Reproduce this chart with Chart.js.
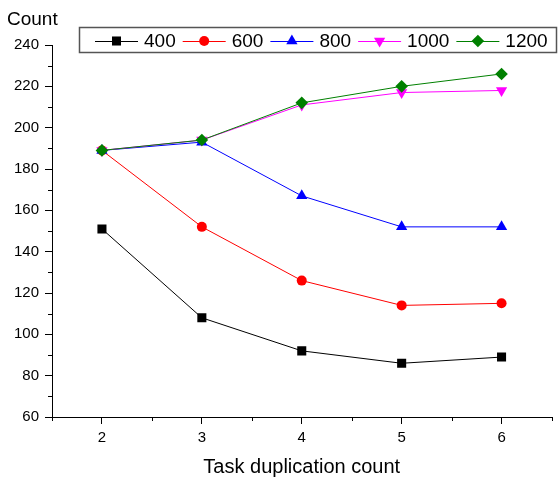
<!DOCTYPE html>
<html><head><meta charset="utf-8">
<script src="https://cdn.jsdelivr.net/npm/chart.js@4/dist/chart.umd.min.js"></script>
<style>html,body{margin:0;padding:0;background:#fff}</style>
</head><body>
<canvas id="c" width="558" height="478" style="display:block;width:558px;height:478px"></canvas>
<script>
const taskDup = [2, 3, 4, 5, 6];
const series400 = [151, 108, 92, 86, 89];
const series600 = [189, 152, 126, 114, 115];
const series800 = [189, 193, 167, 152, 152];
const series1000 = [189, 194, 211, 217, 218];
const series1200 = [189, 194, 212, 220, 226];
const seriesNames = ['400', '600', '800', '1000', '1200'];
const xTicks = [2, 3, 4, 5, 6];
const yTicks = [60, 80, 100, 120, 140, 160, 180, 200, 220, 240];
const xMinor = [1.5, 2.5, 3.5, 4.5, 5.5, 6.5];
const yMinor = [70, 90, 110, 130, 150, 170, 190, 210, 230];
const yTitle = 'Count';
const xTitle = 'Task duplication count';

const FONT = '"Liberation Sans", Arial, sans-serif';
const styles = [
  {color: '#000000', pointStyle: 'rect', rotation: 0, radius: 6.4},
  {color: '#ff0000', pointStyle: 'circle', rotation: 0, radius: 5},
  {color: '#0000ff', pointStyle: 'triangle', rotation: 0, radius: 6.5},
  {color: '#ff00ff', pointStyle: 'triangle', rotation: 180, radius: 6.5},
  {color: '#008000', pointStyle: 'rectRot', rotation: 0, radius: 6.3}
];
const allSeries = [series400, series600, series800, series1000, series1200];

const datasets = allSeries.map((s, i) => ({
  label: seriesNames[i],
  data: taskDup.map((x, j) => ({x: x, y: s[j]})),
  borderColor: styles[i].color,
  backgroundColor: styles[i].color,
  pointBackgroundColor: styles[i].color,
  pointBorderColor: styles[i].color,
  pointBorderWidth: 0,
  borderWidth: 1,
  pointStyle: styles[i].pointStyle,
  pointRotation: styles[i].rotation,
  pointRadius: styles[i].radius,
  tension: 0,
  order: allSeries.length - i
}));

const extras = {
  id: 'extras',
  afterDraw(chart) {
    const ctx = chart.ctx;
    const xs = chart.scales.x, ys = chart.scales.y;
    ctx.save();
    // minor ticks
    ctx.strokeStyle = '#000';
    ctx.lineWidth = 1;
    ctx.beginPath();
    xMinor.forEach(v => {
      const px = Math.round(xs.getPixelForValue(v)) + 0.5;
      ctx.moveTo(px, xs.top); ctx.lineTo(px, xs.top + 4);
    });
    yMinor.forEach(v => {
      const py = Math.round(ys.getPixelForValue(v)) + 0.5;
      ctx.moveTo(ys.right, py); ctx.lineTo(ys.right - 4, py);
    });
    ctx.stroke();
    // titles
    ctx.fillStyle = '#000';
    ctx.font = '19px ' + FONT;
    ctx.textAlign = 'left';
    ctx.textBaseline = 'alphabetic';
    ctx.fillText(yTitle, 7, 24.5);
    ctx.font = '20px ' + FONT;
    ctx.textAlign = 'center';
    ctx.fillText(xTitle, (chart.chartArea.left + chart.chartArea.right) / 2, 473);
    // legend
    ctx.strokeStyle = '#555';
    ctx.lineWidth = 1.5;
    ctx.strokeRect(79.5, 27.5, 477, 25);
    ctx.font = '19px ' + FONT;
    ctx.textAlign = 'left';
    ctx.textBaseline = 'middle';
    let x = 95;
    const ly = 41;
    seriesNames.forEach((name, i) => {
      const st = styles[i];
      ctx.strokeStyle = st.color;
      ctx.lineWidth = 1;
      ctx.beginPath();
      ctx.moveTo(x, ly + 0.5); ctx.lineTo(x + 43, ly + 0.5);
      ctx.stroke();
      ctx.fillStyle = st.color;
      Chart.helpers.drawPoint(ctx, {pointStyle: st.pointStyle, rotation: st.rotation, radius: st.radius, borderWidth: 0}, x + 21.5, ly);
      ctx.fillStyle = '#000';
      ctx.fillText(name, x + 49, ly + 0.5);
      x += 49 + ctx.measureText(name).width + 7;
    });
    ctx.restore();
  }
};

new Chart(document.getElementById('c'), {
  type: 'line',
  data: {datasets: datasets},
  options: {
    responsive: false,
    animation: false,
    layout: {padding: {top: 45, right: 1, left: 0, bottom: 0}},
    plugins: {legend: {display: false}, tooltip: {enabled: false}},
    scales: {
      x: {
        type: 'linear', min: 1.5, max: 6.5,
        afterBuildTicks: s => { s.ticks = xTicks.map(v => ({value: v})); },
        afterFit: s => { s.height = 61; },
        grid: {drawOnChartArea: false, drawTicks: true, tickLength: 7, color: '#000'},
        border: {display: true, color: '#000', width: 1},
        ticks: {color: '#000', font: {family: FONT, size: 15}, padding: 5, maxRotation: 0}
      },
      y: {
        type: 'linear', min: 60, max: 240,
        afterBuildTicks: s => { s.ticks = yTicks.map(v => ({value: v})); },
        afterFit: s => { s.width = 52; },
        grid: {drawOnChartArea: false, drawTicks: true, tickLength: 7, color: '#000'},
        border: {display: true, color: '#000', width: 1},
        ticks: {color: '#000', font: {family: FONT, size: 15}, padding: 6}
      }
    }
  },
  plugins: [extras]
});
</script>
</body></html>
